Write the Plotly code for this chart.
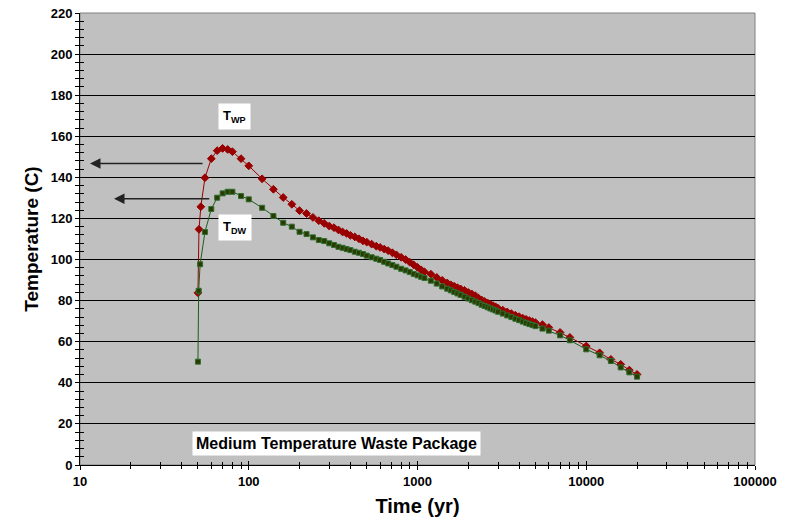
import plotly.graph_objects as go

# ---- data ----
t_wp = [50, 50.7, 52, 55, 60, 65, 70, 75, 80, 90, 100, 120, 140, 160, 180, 200, 220, 240,
        260, 280, 300, 320, 340, 360, 380, 400, 425, 450, 475, 500, 535, 570, 600, 635, 670,
        710, 750, 800, 850, 900, 950, 1000, 1050, 1100, 1200, 1300, 1400, 1500, 1575, 1650,
        1725, 1800, 1900, 2000, 2100, 2200, 2300, 2400, 2500, 2600, 2700, 2800, 2900, 3000,
        3200, 3400, 3600, 3800, 4000, 4200, 4400, 4600, 4800, 5000, 5500, 6000, 7000, 8000,
        10000, 12000, 14000, 16000, 18000, 20000]
T_wp = [83.8, 114.7, 125.7, 139.8, 149.1, 153.0, 154.1, 153.6, 152.5, 149.1, 145.6, 139.3,
        134.2, 130.2, 126.9, 123.8, 122.4, 120.5, 118.9, 117.6, 116.3, 115.5, 114.4, 113.4,
        112.7, 111.8, 111.0, 110.1, 109.1, 108.5, 107.5, 106.5, 105.9, 105.1, 104.3, 103.3,
        102.3, 101.1, 100.0, 98.7, 97.4, 96.2, 95.0, 94.0, 92.9, 91.3, 89.9, 88.6, 87.7,
        87.0, 86.3, 85.7, 85.0, 84.0, 83.2, 82.4, 81.2, 80.3, 79.6, 78.9, 78.2, 77.6, 77.0,
        76.3, 75.4, 74.5, 73.7, 72.9, 72.2, 71.5, 70.9, 70.3, 69.8, 69.3, 68.3, 66.9, 64.5,
        62.1, 57.9, 54.6, 51.4, 49.0, 46.2, 44.1]

t_dw = [50, 50.5, 51.5, 55, 60, 65, 70, 75, 80, 90, 100, 120, 140, 160, 180, 200, 220, 240,
        260, 280, 300, 320, 340, 360, 380, 400, 425, 450, 475, 500, 535, 570, 600, 635, 670,
        710, 750, 800, 850, 900, 950, 1000, 1050, 1100, 1200, 1300, 1400, 1500, 1575, 1650,
        1725, 1800, 1900, 2000, 2100, 2200, 2300, 2400, 2500, 2600, 2700, 2800, 2900, 3000,
        3200, 3400, 3600, 3800, 4000, 4200, 4400, 4600, 4800, 5000, 5500, 6000, 7000, 8000,
        10000, 12000, 14000, 16000, 18000, 20000]
T_dw = [50.3, 84.8, 97.7, 113.4, 124.6, 130.1, 132.2, 133.0, 133.0, 130.9, 129.3, 125.2,
        121.2, 117.9, 116.0, 113.5, 112.4, 110.8, 109.5, 109.0, 107.9, 107.1, 106.2, 105.7,
        105.1, 104.6, 103.8, 103.3, 102.7, 101.9, 101.1, 100.4, 99.8, 98.9, 98.1, 97.3,
        96.5, 95.5, 94.7, 93.9, 93.0, 92.3, 91.6, 91.0, 89.7, 88.3, 86.9, 85.8, 85.0, 84.2,
        83.5, 82.8, 81.9, 81.0, 80.2, 79.5, 78.8, 78.0, 77.4, 76.8, 76.2, 75.7, 75.2, 74.6,
        73.7, 72.8, 72.0, 71.2, 70.5, 69.8, 69.2, 68.6, 68.1, 67.6, 66.4, 65.4, 63.1, 60.7,
        56.3, 53.4, 50.6, 47.5, 45.1, 43.0]

x_ticks = [10, 100, 1000, 10000, 100000]
x_tick_labels = ["10", "100", "1000", "10000", "100000"]
x_minor = [m * d for d in (10, 100, 1000, 10000) for m in range(2, 10)]
y_ticks = list(range(0, 221, 20))

FONT = "Liberation Sans, Arial, sans-serif"

fig = go.Figure()
fig.add_trace(go.Scatter(
    x=t_wp, y=T_wp, mode="lines+markers", name="TWP",
    line=dict(color="#990000", width=1),
    marker=dict(symbol="diamond", size=6, color="#990000", line=dict(color="#990000", width=1)),
))
fig.add_trace(go.Scatter(
    x=t_dw, y=T_dw, mode="lines+markers", name="TDW",
    line=dict(color="#1E5E1E", width=1),
    marker=dict(symbol="square", size=5, color="#2A3A00", line=dict(color="#2F6F2F", width=1)),
))
# invisible trace to carry the inside-tick overlay axes
fig.add_trace(go.Scatter(x=[t_wp[0]], y=[T_wp[0]], xaxis="x2", yaxis="y2",
                         mode="markers", marker=dict(opacity=0), hoverinfo="skip",
                         showlegend=False))

tickfont = dict(family=FONT, size=13, color="black", weight="bold")

fig.update_layout(
    width=787, height=524,
    margin=dict(l=80, r=32, t=13, b=59),
    paper_bgcolor="white", plot_bgcolor="#C0C0C0",
    showlegend=False,
    font=dict(family=FONT, color="black"),
    xaxis=dict(
        type="log", range=[1, 5], automargin=False,
        tickvals=x_ticks, ticktext=x_tick_labels,
        ticks="outside", ticklen=4, tickcolor="black", tickwidth=1,
        minor=dict(tickvals=x_minor, ticks="outside", ticklen=3, tickcolor="black", showgrid=False),
        showgrid=False, zeroline=False,
        showline=True, linecolor="black", linewidth=1,
        tickfont=tickfont,
        title=dict(text="Time (yr)", font=dict(family=FONT, size=20, color="black", weight="bold"),
                   standoff=11),
    ),
    yaxis=dict(
        range=[0, 220], tickvals=y_ticks, automargin=False,
        ticks="outside", ticklen=4, tickcolor="black", tickwidth=1,
        minor=dict(dtick=4, ticks="outside", ticklen=4, tickcolor="black", showgrid=False),
        showgrid=True, gridcolor="black", gridwidth=1, zeroline=False,
        showline=True, linecolor="black", linewidth=1,
        tickfont=tickfont,
        title=dict(text="Temperature (C)", font=dict(family=FONT, size=19, color="black", weight="bold"),
                   standoff=7),
    ),
    xaxis2=dict(type="log", overlaying="x", matches="x", range=[1, 5], tickvals=x_ticks,
                automargin=False,
                showticklabels=False, ticks="inside", ticklen=4, tickcolor="black",
                minor=dict(tickvals=x_minor, ticks="inside", ticklen=3, tickcolor="black", showgrid=False),
                showgrid=False, zeroline=False, side="bottom", anchor="y2"),
    yaxis2=dict(overlaying="y", matches="y", range=[0, 220], tickvals=y_ticks,
                automargin=False,
                showticklabels=False, ticks="inside", ticklen=4, tickcolor="black",
                minor=dict(dtick=4, ticks="inside", ticklen=4, tickcolor="black", showgrid=False),
                showgrid=False, zeroline=False, side="left", anchor="x2"),
)

# plot-area frame (right/top in gray)
fig.add_shape(type="rect", xref="paper", yref="paper", x0=0, x1=1, y0=0, y1=1,
              line=dict(color="#808080", width=1), layer="below")

# text boxes
fig.add_annotation(x=1.9158, y=169.8, xref="x", yref="y", showarrow=False,
                   text="<b>T<sub>WP</sub></b>", font=dict(family=FONT, size=13, color="black"),
                   bgcolor="white", borderpad=4)
fig.add_annotation(x=1.9188, y=115.8, xref="x", yref="y", showarrow=False,
                   text="<b>T<sub>DW</sub></b>", font=dict(family=FONT, size=13, color="black"),
                   bgcolor="white", borderpad=4)
fig.add_annotation(x=2.5175, y=10.7, xref="x", yref="y", showarrow=False,
                   text="<b>Medium Temperature Waste Package</b>",
                   font=dict(family=FONT, size=16, color="black"),
                   bgcolor="white", borderpad=3)

# arrows pointing at the temperature axis
fig.add_annotation(x=1.0593, y=146.8, ax=1.735, ay=146.8, xref="x", yref="y",
                   axref="x", ayref="y", text="", showarrow=True,
                   arrowhead=2, arrowsize=1.4, arrowwidth=1.5, arrowcolor="#222222")
fig.add_annotation(x=1.2015, y=129.6, ax=1.7748, ay=129.6, xref="x", yref="y",
                   axref="x", ayref="y", text="", showarrow=True,
                   arrowhead=2, arrowsize=1.4, arrowwidth=1.5, arrowcolor="#222222")

# remove the default 8px page margin so the figure fills the window exactly
fig.write_html("out.html", config={"displayModeBar": False},
               post_script="document.body.style.margin='0';")
